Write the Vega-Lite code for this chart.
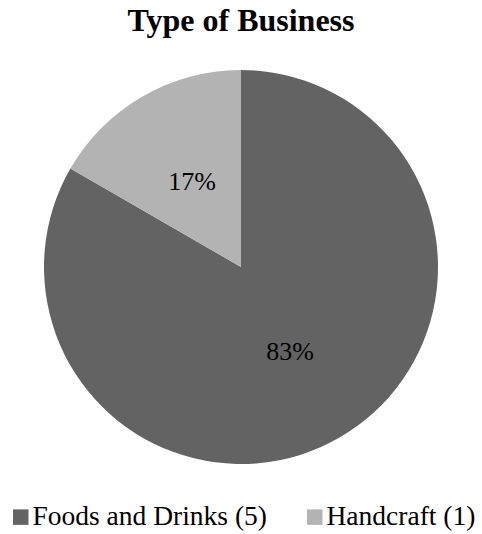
{
  "$schema": "https://vega.github.io/schema/vega-lite/v6.json",
  "width": 394,
  "height": 394,
  "autosize": {"type": "none"},
  "padding": {"left": 44, "right": 44, "top": 70, "bottom": 70},
  "background": "white",
  "title": {
    "text": "Type of Business",
    "font": "Liberation Serif",
    "fontSize": 32,
    "fontWeight": "bold",
    "color": "black",
    "anchor": "middle",
    "offset": 32
  },
  "config": {"view": {"stroke": null}},
  "data": {
    "values": [
      {"type": "Foods and Drinks (5)", "count": 5, "label": "83%"},
      {"type": "Handcraft (1)", "count": 1, "label": "17%"}
    ]
  },
  "encoding": {
    "theta": {"field": "count", "type": "quantitative", "stack": true},
    "order": {"field": "count", "type": "quantitative", "sort": "descending"}
  },
  "layer": [
    {
      "mark": {"type": "arc", "outerRadius": 197},
      "encoding": {
        "color": {
          "field": "type",
          "type": "nominal",
          "scale": {"domain": ["Foods and Drinks (5)", "Handcraft (1)"], "range": ["#636363", "#b3b3b3"]},
          "legend": {
            "title": null,
            "orient": "none",
            "legendX": -37,
            "legendY": 433,
            "direction": "horizontal",
            "symbolType": "square",
            "symbolSize": 240,
            "symbolStrokeWidth": 0,
            "labelFont": "Liberation Serif",
            "labelFontSize": 27.5,
            "labelColor": "black",
            "labelLimit": 0,
            "labelOffset": -2,
            "columnPadding": 33
          }
        }
      }
    },
    {
      "mark": {"type": "text", "radius": 98, "font": "Liberation Serif", "fontSize": 26, "color": "black"},
      "encoding": {
        "text": {"field": "label", "type": "nominal"},
        "detail": {"field": "type", "type": "nominal"}
      }
    }
  ]
}
